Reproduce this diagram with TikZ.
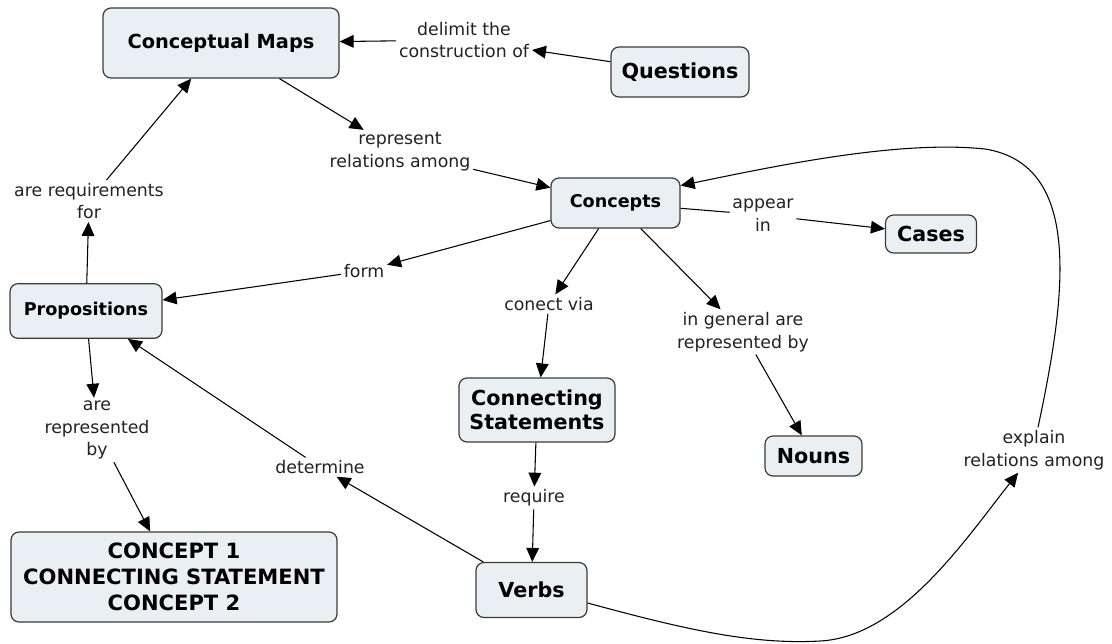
\documentclass[tikz,border=0pt]{standalone}
\usepackage{fontspec}
\setmainfont{DejaVu Sans}
\usetikzlibrary{arrows.meta}
\definecolor{boxfill}{HTML}{E9EFF3}
\definecolor{boxline}{HTML}{3A3A3A}
\definecolor{txt}{HTML}{222222}
\begin{document}
\begin{tikzpicture}[x=0.75pt,y=-0.75pt,
  concept/.style={draw=boxline, fill=boxfill, rounded corners=6pt, line width=0.9pt,
    font=\bfseries\fontsize{15.5}{18}\selectfont, align=center, inner sep=0pt, text=black},
  small/.style={font=\bfseries\fontsize{13.2}{16}\selectfont},
  lbl/.style={font=\fontsize{13}{17}\selectfont, align=center, inner sep=2pt, text=txt},
  arr/.style={-{Triangle[length=10.5pt,width=9.5pt]}, line width=0.8pt},
  ln/.style={line width=0.8pt}]
\useasboundingbox (0,0) rectangle (1112,643);
% concept nodes
\node[concept, font=\bfseries\fontsize{14.5}{18}\selectfont, minimum width=177pt, minimum height=52.5pt] (cm) at (221,43) {Conceptual Maps};
\node[concept, minimum width=103.5pt, minimum height=37.5pt] (q) at (680,72) {Questions};
\node[concept, small, minimum width=96.75pt, minimum height=37.5pt] (con) at (615.5,203) {Concepts};
\node[concept, minimum width=68.25pt, minimum height=28.5pt] (cases) at (931,234) {Cases};
\node[concept, small, minimum width=114pt, minimum height=41pt] (prop) at (86,311) {Propositions};
\node[concept, minimum width=117pt, minimum height=48pt] (cs) at (537,410) {Connecting\\Statements};
\node[concept, minimum width=72.75pt, minimum height=30pt] (nouns) at (813.5,456) {Nouns};
\node[concept, minimum width=83.25pt, minimum height=41.25pt] (verbs) at (531.5,590) {Verbs};
\node[concept, font=\bfseries\fontsize{15.8}{19.5}\selectfont, minimum width=244.5pt, minimum height=67.5pt] (cbox) at (174,577) {CONCEPT 1\\CONNECTING STATEMENT\\CONCEPT 2};
% linking phrases
\node[lbl] (delim) at (464,40) {delimit the\\construction of};
\node[lbl] (repr) at (400,152) {represent\\relations among};
\node[lbl] (req) at (89,201) {are requirements\\for};
\node[lbl] (appear) at (763,215) {appear\\in};
\node[lbl] (form) at (364,271) {form};
\node[lbl] (conect) at (549,304) {conect via};
\node[lbl] (ingen) at (743,332) {in general are\\represented by};
\node[lbl] (arerep) at (97,430) {are\\represented\\by};
\node[lbl] (determ) at (320,467) {determine};
\node[lbl] (explain) at (1034,450) {explain\\relations among};
\node[lbl] (require) at (534,498) {require};
% connectors
\draw[arr] (q) -- (delim);
\draw[arr] (delim) -- (cm);
\draw[arr] (cm) -- (repr);
\draw[arr] (repr) -- (con);
\draw[ln] (con) -- (appear);
\draw[arr] (appear) -- (cases);
\draw[arr] (con) -- (form);
\draw[arr] (form) -- (prop);
\draw[arr] (con) -- (conect);
\draw[arr] (conect) -- (cs);
\draw[arr] (con) -- (ingen);
\draw[arr] (ingen) -- (nouns);
\draw[arr] (prop) -- (req);
\draw[arr] (req) -- (cm);
\draw[arr] (prop) -- (arerep);
\draw[arr] (arerep) -- (cbox);
\draw[arr] (cs) -- (require);
\draw[arr] (require) -- (verbs);
\draw[arr] (verbs) -- (determ);
\draw[arr] (determ) -- (prop);
\draw[arr] ([yshift=-9.75pt]verbs.east) .. controls (680,628) and (750,645) .. (820,641)
   .. controls (900,637) and (965,540) .. (explain.-125);
\draw[arr] (explain.80) .. controls (1065,300) and (1085,165) .. (985,149)
   .. controls (900,140) and (780,165) .. (con.15);
\end{tikzpicture}
\end{document}
